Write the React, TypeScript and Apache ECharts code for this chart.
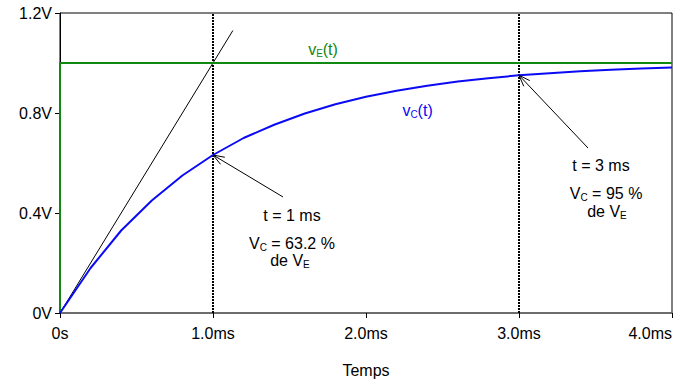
import React, { useEffect, useRef } from "react";
import * as echarts from "echarts";

// time in ms, voltage in V
const vcTime = [0, 0.2, 0.4, 0.6, 0.8, 1.0, 1.2, 1.4, 1.6, 1.8, 2.0, 2.2, 2.4, 2.6, 2.8, 3.0, 3.2, 3.4, 3.6, 3.8, 4.0];
const vcValues = [0, 0.18, 0.33, 0.45, 0.55, 0.632, 0.70, 0.753, 0.798, 0.835, 0.865, 0.889, 0.909, 0.926, 0.939, 0.951, 0.959, 0.967, 0.973, 0.978, 0.982];
const veTime = [0, 0, 4];
const veValues = [0, 1, 1];
const tangentTime = [0, 1.13];
const tangentValues = [0, 1.13];
const markerTimes = [1, 3];
const xTicks = ["0s", "1.0ms", "2.0ms", "3.0ms", "4.0ms"];
const yTicks = ["0V", "0.4V", "0.8V", "1.2V"];
// arrows: [fromX, fromY, toX, toY]
const arrows = [
  [1.458, 0.464, 1.0, 0.632],
  [3.451, 0.66, 3.0, 0.951],
];
// annotation texts: [x, y, text]
const annotations: [number, number, string][] = [
  [1.516, 0.392, "t = 1 ms"],
  [1.516, 0.28, "V{sub|C} = 63.2 %"],
  [1.503, 0.212, "de V{sub|E}"],
  [3.536, 0.592, "t = 3 ms"],
  [3.569, 0.48, "V{sub|C} = 95 %"],
  [3.575, 0.408, "de V{sub|E}"],
];
const GREEN = "#118811";
const BLUE = "#0a0af5";
const curveLabels: [number, number, string, string][] = [
  [1.719, 1.056, "v{sub|E}(t)", GREEN],
  [2.337, 0.812, "v{sub|C}(t)", BLUE],
];

const FONT = "Liberation Sans, Arial, sans-serif";

export default function App() {
  const ref = useRef<HTMLDivElement>(null);
  useEffect(() => {
    if (!ref.current) return;
    const chart = echarts.init(ref.current, undefined, { renderer: "svg" });
    const richFor = (color: string) => ({
      sub: { fontSize: 10, fill: color, verticalAlign: "bottom", lineHeight: 18, fontFamily: FONT },
    });
    chart.setOption({
      animation: false,
      grid: {
        left: 60, right: 2, top: 13, bottom: 68,
        show: true, borderColor: "#000", borderWidth: 1,
        containLabel: false, outerBoundsMode: "none",
      },
      xAxis: {
        type: "value",
        min: 0,
        max: 4,
        interval: 1,
        name: "Temps",
        nameLocation: "middle",
        nameGap: 49,
        nameTextStyle: { color: "#000", fontSize: 16, fontFamily: FONT },
        axisLine: { lineStyle: { color: "#666", width: 1.5 } },
        axisTick: { show: true, length: 5, lineStyle: { color: "#000" } },
        splitLine: { show: false },
        axisLabel: {
          color: "#000",
          fontSize: 16,
          fontFamily: FONT,
          margin: 12,
          alignMaxLabel: "right",
          formatter: (v: number) => xTicks[Math.round(v)] ?? "",
        },
      },
      yAxis: {
        type: "value",
        min: 0,
        max: 1.2,
        interval: 0.4,
        axisLine: { show: true, lineStyle: { color: "#000", width: 1 } },
        axisTick: { show: true, length: 5, lineStyle: { color: "#000" } },
        splitLine: { show: false },
        axisLabel: {
          color: "#000",
          fontSize: 16,
          fontFamily: FONT,
          margin: 8,
          formatter: (v: number) => yTicks[Math.round(v / 0.4)] ?? "",
        },
      },
      series: [
        ...markerTimes.map((t) => ({
          type: "line",
          data: [[t, 0], [t, 1.2]],
          symbol: "none",
          lineStyle: { color: "#000", width: 2, type: [2, 1] },
          z: 1,
        })),
        {
          type: "line",
          data: tangentTime.map((t, i) => [t, tangentValues[i]]),
          symbol: "none",
          lineStyle: { color: "#000", width: 1 },
          z: 2,
        },
        {
          type: "line",
          data: veTime.map((t, i) => [t, veValues[i]]),
          symbol: "none",
          lineStyle: { color: GREEN, width: 2 },
          z: 3,
        },
        {
          type: "line",
          data: vcTime.map((t, i) => [t, vcValues[i]]),
          symbol: "none",
          lineStyle: { color: BLUE, width: 2 },
          z: 4,
        },
        {
          type: "custom",
          data: arrows,
          encode: { x: [0, 2], y: [1, 3] },
          z: 5,
          renderItem: (params: any, api: any) => {
            const p1 = api.coord([api.value(0), api.value(1)]);
            const p2 = api.coord([api.value(2), api.value(3)]);
            const ang = Math.atan2(p1[1] - p2[1], p1[0] - p2[0]);
            const L = 12, a = 0.35;
            const h1 = [p2[0] + L * Math.cos(ang + a), p2[1] + L * Math.sin(ang + a)];
            const h2 = [p2[0] + L * Math.cos(ang - a), p2[1] + L * Math.sin(ang - a)];
            return {
              type: "group",
              children: [
                { type: "line", shape: { x1: p1[0], y1: p1[1], x2: p2[0], y2: p2[1] }, style: { stroke: "#000", lineWidth: 1 } },
                { type: "polyline", shape: { points: [h1, p2, h2] }, style: { stroke: "#000", lineWidth: 1, fill: null } },
              ],
            };
          },
        },
        {
          type: "custom",
          data: annotations.map((a) => [a[0], a[1]]),
          encode: { x: 0, y: 1 },
          z: 6,
          renderItem: (params: any, api: any) => {
            const p = api.coord([api.value(0), api.value(1)]);
            const a = annotations[params.dataIndex];
            return {
              type: "text",
              x: p[0],
              y: p[1],
              style: {
                text: a[2],
                fill: "#000",
                fontSize: 16,
                fontFamily: FONT,
                lineHeight: 18,
                align: "center",
                verticalAlign: "middle",
                rich: richFor("#000"),
              },
            };
          },
        },
        {
          type: "custom",
          data: curveLabels.map((a) => [a[0], a[1]]),
          encode: { x: 0, y: 1 },
          z: 6,
          renderItem: (params: any, api: any) => {
            const p = api.coord([api.value(0), api.value(1)]);
            const a = curveLabels[params.dataIndex];
            return {
              type: "text",
              x: p[0],
              y: p[1],
              style: {
                text: a[2],
                fill: a[3],
                fontSize: 16,
                fontFamily: FONT,
                lineHeight: 18,
                align: "center",
                verticalAlign: "middle",
                rich: richFor(a[3]),
              },
            };
          },
        },
      ],
    });
    return () => chart.dispose();
  }, []);
  return <div ref={ref} style={{ width: 674, height: 381, position: "absolute", left: 0, top: 0, background: "#fff" }} />;
}
